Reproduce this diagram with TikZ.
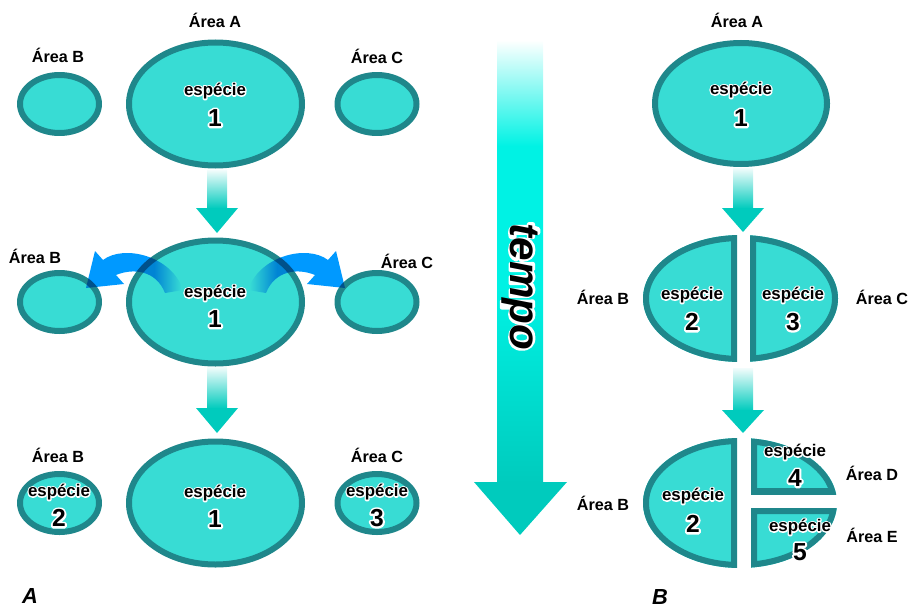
\documentclass[tikz,border=0pt]{standalone}
\usepackage{fontspec}
\setmainfont{Liberation Sans}
% white rim behind the species names and the time label
\newfontfamily\halofont[FakeBold=16]{Liberation Sans Bold}
\newfontfamily\halotempo[FakeBold=10]{Liberation Sans Bold Italic}
\newcommand\halo[2][\halofont]{\rlap{\color{white}#1#2}#2}
\usetikzlibrary{positioning,fadings}
\definecolor{HabFill}{HTML}{38DCD4}
\definecolor{HabEdge}{HTML}{1F878B}
\definecolor{FlowTeal}{HTML}{00CBBD}
\definecolor{TimeCyan}{HTML}{00F2E4}
\definecolor{DispBlue}{HTML}{0099FF}

% time axis: white at the top, cyan, then teal
\pgfdeclareverticalshading{tempoflow}{100bp}{color(0bp)=(FlowTeal); color(25bp)=(FlowTeal); color(47bp)=(TimeCyan); color(63bp)=(TimeCyan); color(75bp)=(white); color(100bp)=(white)}

% dispersal arrows fade out inside the source area
\begin{tikzfadingfrompicture}[name=fadeeast]
 \fill[transparent!0] (-40bp,-40bp) rectangle (10bp,40bp);
 \shade[left color=transparent!0,right color=transparent!100] (10bp,-40bp) rectangle (24bp,40bp);
 \fill[transparent!100] (24bp,-40bp) rectangle (40bp,40bp);
\end{tikzfadingfrompicture}
\begin{tikzfadingfrompicture}[name=fadewest]
 \fill[transparent!0] (-10bp,-40bp) rectangle (40bp,40bp);
 \shade[left color=transparent!100,right color=transparent!0] (-24bp,-40bp) rectangle (-10bp,40bp);
 \fill[transparent!100] (-40bp,-40bp) rectangle (-24bp,40bp);
\end{tikzfadingfrompicture}

\begin{document}
\begin{tikzpicture}[x=.025cm,y=-.025cm,line join=round,
 habitat/.style={fill=HabFill,draw=HabEdge,line width=.15cm},
 area/.style={font=\bfseries\fontsize{11.5}{13}\selectfont,inner sep=1pt},
 sptxt/.style={font=\bfseries\fontsize{12}{14}\selectfont,inner sep=1pt},
 spnum/.style={font=\bfseries\fontsize{17.5}{19}\selectfont,inner sep=1pt},
 panel/.style={font=\bfseries\itshape\fontsize{15.5}{17}\selectfont,inner sep=1pt}]
\useasboundingbox (0,0) rectangle (911,610);

% time axis
\shade[shading=tempoflow] (497,40) rectangle (543,482.5);
\fill[FlowTeal] (474,482) -- (567,482) -- (520,535) -- cycle;
\node[rotate=-90,font=\bfseries\itshape\fontsize{30}{32}\selectfont,inner sep=1pt] (tempo) at (520,287) {\halo[\halotempo]{tempo}};

% A: three stages, areas A, B, C
\foreach \y in {104,302,503}{
 \draw[habitat] (215.5,\y) ellipse [x radius=86.5,y radius=61.5];
 \draw[habitat] (59.5,\y) ellipse [x radius=39.5,y radius=29];
 \draw[habitat] (377,\y) ellipse [x radius=39.5,y radius=29];
}

% B: area A, then split into pieces
\draw[habitat] (741,103.5) ellipse [x radius=86,y radius=60.5];
\foreach \cx/\cy/\rx/\ry/\xa/\ya/\xb/\yb in {740.5/298.5/97.5/63.5/600/200/737/400,
   740.5/298.5/97.5/63.5/750/200/880/400, 740/503/97/65/600/420/737/590,
   740/503/97/65/751/420/880/494, 740/503/97/65/751/508/880/590}{
 \begin{scope}
  \clip (\cx,\cy) ellipse [x radius=\rx,y radius=\ry];
  \clip (\xa,\ya) rectangle (\xb,\yb);
  \fill[HabFill] (\xa,\ya) rectangle (\xb,\yb);
  \draw[HabEdge,line width=.3cm] (\cx,\cy) ellipse [x radius=\rx,y radius=\ry] (\xa,\ya) rectangle (\xb,\yb);
 \end{scope}
}

% downward steps
\foreach \x/\ya/\yb/\yc in {217/170/208/233,217/367/408/433,743/168/208/232,743/368/410/433}{
 \shade[top color=FlowTeal!5!white,bottom color=FlowTeal] (\x-10,\ya) rectangle (\x+10,\yb+.5);
 \fill[FlowTeal] (\x-21,\yb) -- (\x+21,\yb) -- (\x,\yc) -- cycle;
}

% dispersal out of area A
\begin{scope}[blend mode=multiply]
 \fill[DispBlue,path fading=fadeeast] (183,290) .. controls (172,256) and (124,244) .. (103,260)
   -- (95,251) -- (86,288) -- (124,284) -- (116,275) .. controls (133,268) and (156,270) .. (165,293) -- cycle;
 \fill[DispBlue,path fading=fadewest] (248,290) .. controls (259,256) and (307,244) .. (328,260)
   -- (336,251) -- (345,288) -- (307,284) -- (315,275) .. controls (298,268) and (275,270) .. (266,293) -- cycle;
\end{scope}

% area labels
\foreach \nm/\x/\y/\t in {aA1/215/20/Área A, aB1/58/55/Área B, aC1/377/56/Área C,
   aB2/35/256/Área B, aC2/407/261/Área C, aB3/58/455/Área B, aC3/377/455/Área C,
   bA1/737/20/Área A, bB2/603/297/Área B, bC2/882/297/Área C,
   bB3/603/503/Área B, bD3/872/473/Área D, bE3/872/535/Área E}{
 \node[area] (\nm) at (\x,\y) {\t};
}

% species
\foreach \nm/\x/\y/\yy/\k in {sA1/215/91/118/1, sA2/215/293/319/1, sA3/215/493/519/1,
   sB3/59/492/518/2, sC3/377/492/518/3, tA1/741/90/118/1, tB2/692/295/322/2,
   tC2/793/295/322/3, tB3/693/496/524/2, tD3/795/452/478/4, tE3/800/527/552/5}{
 \node[sptxt] (\nm) at (\x,\y) {\halo{espécie}};
 \node[spnum] (\nm-n) at (\x,\yy) {\halo{\k}};
}

\node[panel] (pA) at (30,596) {A};
\node[panel] (pB) at (660,597) {B};
\end{tikzpicture}
\end{document}
